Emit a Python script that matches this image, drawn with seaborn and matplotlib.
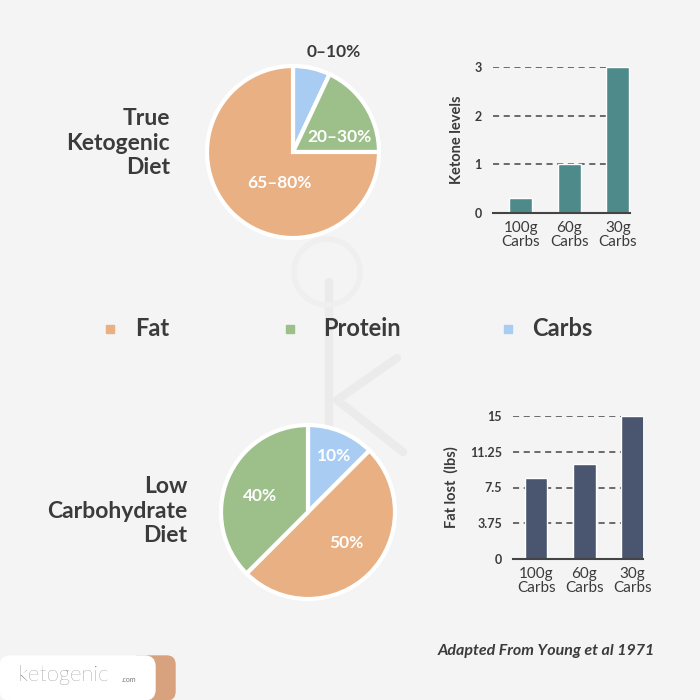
import matplotlib.pyplot as plt
import seaborn as sns
from matplotlib.patches import FancyBboxPatch, Rectangle, Circle
from matplotlib.lines import Line2D

# data
macros = ['Carbs', 'Protein', 'Fat']
keto_share = [7, 18, 75]            # drawn wedge sizes (top pie)
keto_labels = ['0–10%', '20–30%', '65–80%']
lowcarb_order = ['Carbs', 'Fat', 'Protein']
lowcarb_share = [12.5, 50, 37.5]    # drawn wedge sizes (bottom pie)
lowcarb_labels = ['10%', '50%', '40%']

carb_groups = ['100g\nCarbs', '60g\nCarbs', '30g\nCarbs']
ketone_levels = [0.3, 1.0, 3.0]
fat_lost = [8.5, 10.0, 15.0]
ketone_ticks = [0, 1, 2, 3]
fat_ticks = [0, 3.75, 7.5, 11.25, 15]
fat_ticklabels = ['0', '3.75', '7.5', '11.25', '15']

colors = {'Fat': '#e8b083', 'Protein': '#9dc08b', 'Carbs': '#a9cdf2'}
teal = '#4f8a8b'
navy = '#4a566f'
dark = '#3b3b3b'
bg = '#f4f4f4'

sns.set_theme(style='white')
plt.rcParams['font.family'] = ['Lato', 'DejaVu Sans']

W = H = 700
fig = plt.figure(figsize=(7, 7), dpi=100)
fig.patch.set_facecolor(bg)


def box(x0, y0, x1, y1):
    # pixel box (top-left origin) -> figure fraction rect
    return [x0 / W, 1 - y1 / H, (x1 - x0) / W, (y1 - y0) / H]


def fx(x):
    return x / W


def fy(y):
    return 1 - y / H


# faint "k" watermark drawn as strokes, kept behind everything
wm = dict(color='#ebebeb', linewidth=6, solid_capstyle='round',
          transform=fig.transFigure, zorder=-5)
fig.lines.append(Line2D([fx(329), fx(329)], [fy(282), fy(455)], **wm))
fig.lines.append(Line2D([fx(397), fx(337), fx(403)], [fy(358), fy(400), fy(452)], **wm))
fig.patches.append(Circle((fx(327), fy(272)), 33 / W, fill=False, edgecolor='#efefef',
                          linewidth=4, transform=fig.transFigure, zorder=-5))

# --- pies ---
def pie_panel(rect, shares, order):
    ax = fig.add_axes(rect)
    ax.pie(shares, colors=[colors[m] for m in order], startangle=90, radius=1,
           counterclock=False, wedgeprops=dict(edgecolor='white', linewidth=3))
    ax.set_xlim(-1, 1)
    ax.set_ylim(-1, 1)
    ax.set_aspect('equal')
    return ax


pie_panel(box(207, 66, 379, 238), keto_share, macros)
pie_panel(box(221, 425, 395, 599), lowcarb_share, lowcarb_order)

lbl = dict(color='white', fontsize=12.5, fontweight='bold', ha='center', va='center')
fig.text(fx(334), fy(52), keto_labels[0], color=dark, fontsize=12.5,
         fontweight='bold', ha='center', va='center')
fig.text(fx(340), fy(137), keto_labels[1], **lbl)
fig.text(fx(279), fy(183), keto_labels[2], **lbl)
fig.text(fx(334), fy(456), lowcarb_labels[0], **lbl)
fig.text(fx(346), fy(543), lowcarb_labels[1], **lbl)
fig.text(fx(260), fy(496), lowcarb_labels[2], **lbl)

# diet titles
fig.text(fx(170), fy(143), 'True\nKetogenic\nDiet', ha='right', va='center',
         fontsize=16.5, fontweight='bold', color=dark, linespacing=1.2)
fig.text(fx(187), fy(511), 'Low\nCarbohydrate\nDiet', ha='right', va='center',
         fontsize=16.5, fontweight='bold', color=dark, linespacing=1.2)

# --- bars ---
def bar_panel(rect, values, color, ticks, ticklabels, ylabel, xlim):
    ax = fig.add_axes(rect)
    ax.set_facecolor('none')
    sns.barplot(x=carb_groups, y=values, color=color, width=0.47, ax=ax,
                saturation=1, zorder=3)
    ax.set_xlim(*xlim)
    ax.set_ylim(0, ticks[-1])
    ax.set_yticks(ticks)
    ax.set_yticklabels(ticklabels, fontsize=9, fontweight='bold', color=dark)
    for t in ticks[1:]:
        ax.axhline(t, color='#444444', linestyle=(0, (4, 3)), linewidth=1.1, zorder=1)
    for s in ['top', 'right', 'left']:
        ax.spines[s].set_visible(False)
    ax.spines['bottom'].set_color('#444444')
    ax.spines['bottom'].set_linewidth(1.5)
    ax.spines['bottom'].set_zorder(4)
    ax.tick_params(axis='both', length=0, pad=8)
    ax.tick_params(axis='x', pad=6)
    for t in ax.get_xticklabels():
        t.set_fontsize(11)
        t.set_color(dark)
        t.set_linespacing(0.95)
    ax.set_ylabel(ylabel, fontsize=10.5, fontweight='bold', color=dark, labelpad=8)
    ax.set_xlabel('')
    return ax


bar_panel(box(493, 67, 630, 213), ketone_levels, teal, ketone_ticks,
          [str(t) for t in ketone_ticks], 'Ketone levels', (-0.57, 2.25))
bar_panel(box(513, 416, 643, 559), fat_lost, navy, fat_ticks,
          fat_ticklabels, 'Fat lost  (lbs)', (-0.48, 2.22))

# legend row
for x_sq, x_txt, name in [(110, 135, 'Fat'), (290, 323, 'Protein'), (508, 532, 'Carbs')]:
    fig.patches.append(Rectangle((fx(x_sq - 4), fy(333)), 8 / W, 8 / H,
                                 color=colors[name], transform=fig.transFigure))
    fig.text(fx(x_txt), fy(329), name, fontsize=17, fontweight='bold',
             color=dark, ha='left', va='center')

# footer
fig.text(fx(655), fy(651), 'Adapted From Young et al 1971', ha='right', va='center',
         fontsize=11.5, fontweight='bold', fontstyle='italic', color=dark)
fig.patches.append(FancyBboxPatch((fx(130), fy(700)), 45 / W, 44 / H,
                                  boxstyle='round,pad=0,rounding_size=0.012',
                                  color='#d9a27f', transform=fig.transFigure))
fig.patches.append(FancyBboxPatch((fx(0), fy(700)), 155 / W, 44 / H,
                                  boxstyle='round,pad=0,rounding_size=0.015',
                                  color='white', transform=fig.transFigure))
fig.text(fx(18), fy(675), 'ketogenic', fontsize=16, color='#555555',
         ha='left', va='center', fontweight='light')
fig.text(fx(122), fy(680), '.com', fontsize=5, color='#777777', ha='left', va='center')

fig.savefig('out.png', dpi=100, facecolor=bg)
